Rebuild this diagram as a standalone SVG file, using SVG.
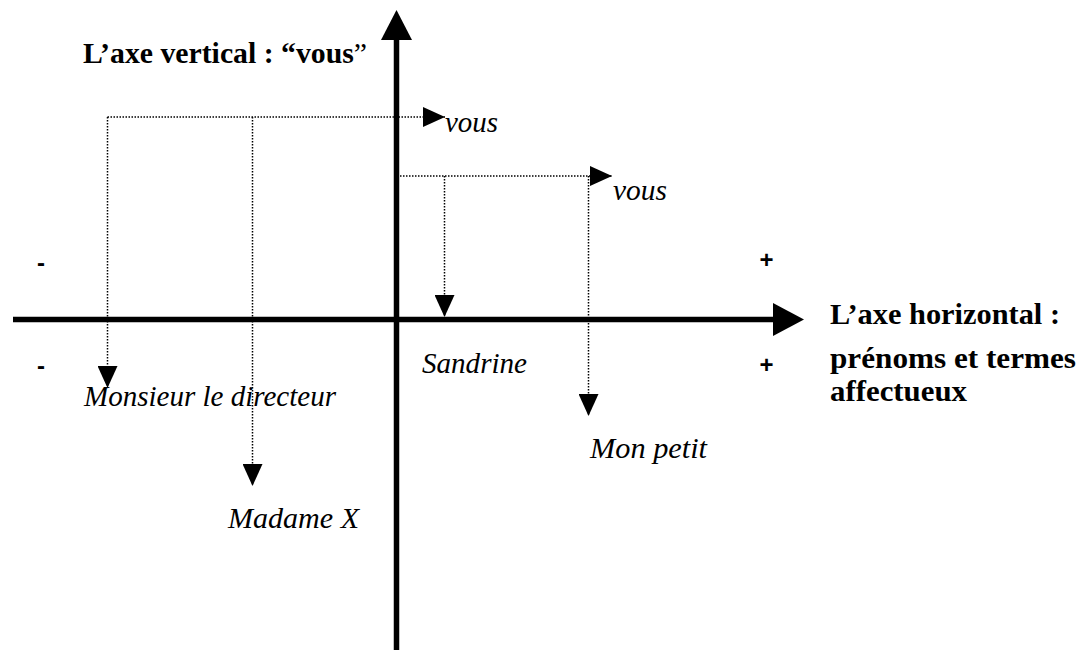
<svg xmlns="http://www.w3.org/2000/svg" width="1089" height="650" viewBox="0 0 1089 650">
  <defs>
    <style>
      .axis { stroke: #000; stroke-width: 5.5; fill: none; }
      .head { fill: #000; }
      .dot { stroke: #000; stroke-width: 1.5; stroke-dasharray: 1.5 1.5; fill: none; }
      .bold { font-family: "Liberation Serif", "Times New Roman", serif; font-weight: bold; font-size: 29px; fill: #000; }
      .ital { font-family: "Liberation Serif", "Times New Roman", serif; font-style: italic; font-size: 30px; fill: #000; }
      .sign { font-family: "Liberation Sans", Arial, sans-serif; font-weight: bold; font-size: 24px; fill: #000; text-anchor: middle; }
    </style>
    <marker id="tri" markerUnits="userSpaceOnUse" markerWidth="22" markerHeight="20" refX="22" refY="10" orient="auto" viewBox="0 0 22 20">
      <path d="M0,0 L22,10 L0,20 z" fill="#000"/>
    </marker>
  </defs>

  <rect width="1089" height="650" fill="#fff"/>

  <!-- axes -->
  <g id="axes">
    <line class="axis" x1="396.5" y1="650" x2="396.5" y2="38"/>
    <polygon class="head" points="381,40 412,40 396.5,10"/>
    <line class="axis" x1="13" y1="319.5" x2="775" y2="319.5"/>
    <polygon class="head" points="773,303 773,336 804,319.5"/>
  </g>

  <!-- dotted projection connectors -->
  <g id="connectors">
    <line class="dot" x1="107.5" y1="117" x2="445" y2="117" marker-end="url(#tri)"/>
    <line class="dot" x1="107.5" y1="117" x2="107.5" y2="388" marker-end="url(#tri)"/>
    <line class="dot" x1="252.5" y1="117" x2="252.5" y2="486" marker-end="url(#tri)"/>
    <line class="dot" x1="397" y1="176" x2="612" y2="176" marker-end="url(#tri)"/>
    <line class="dot" x1="444.5" y1="176" x2="444.5" y2="317" marker-end="url(#tri)"/>
    <line class="dot" x1="588.5" y1="176" x2="588.5" y2="416" marker-end="url(#tri)"/>
  </g>

  <!-- axis titles -->
  <g id="title-vertical">
    <text class="bold" x="83" y="63" textLength="284" lengthAdjust="spacingAndGlyphs">L’axe vertical : “vous<tspan font-weight="normal">”</tspan></text>
  </g>
  <g id="title-horizontal">
    <text class="bold" x="830" y="324" textLength="230" lengthAdjust="spacingAndGlyphs">L’axe horizontal :</text>
    <text class="bold" x="830" y="368" textLength="246" lengthAdjust="spacingAndGlyphs">prénoms et termes</text>
    <text class="bold" x="830" y="401" textLength="137" lengthAdjust="spacingAndGlyphs">affectueux</text>
  </g>

  <!-- signs -->
  <g id="signs">
    <text class="sign" x="41" y="271">-</text>
    <text class="sign" x="41" y="374">-</text>
    <text class="sign" x="766.5" y="268">+</text>
    <text class="sign" x="766.5" y="373">+</text>
  </g>

  <!-- labels -->
  <g id="label-vous-1"><text class="ital" x="445" y="132" textLength="53" lengthAdjust="spacingAndGlyphs">vous</text></g>
  <g id="label-vous-2"><text class="ital" x="613" y="200" textLength="54" lengthAdjust="spacingAndGlyphs">vous</text></g>
  <g id="label-sandrine"><text class="ital" x="422" y="373" textLength="105" lengthAdjust="spacingAndGlyphs">Sandrine</text></g>
  <g id="label-monsieur"><text class="ital" x="84" y="406" textLength="252" lengthAdjust="spacingAndGlyphs">Monsieur le directeur</text></g>
  <g id="label-mon-petit"><text class="ital" x="590" y="458" textLength="117" lengthAdjust="spacingAndGlyphs">Mon petit</text></g>
  <g id="label-madame"><text class="ital" x="228" y="528" textLength="131" lengthAdjust="spacingAndGlyphs">Madame X</text></g>
</svg>
